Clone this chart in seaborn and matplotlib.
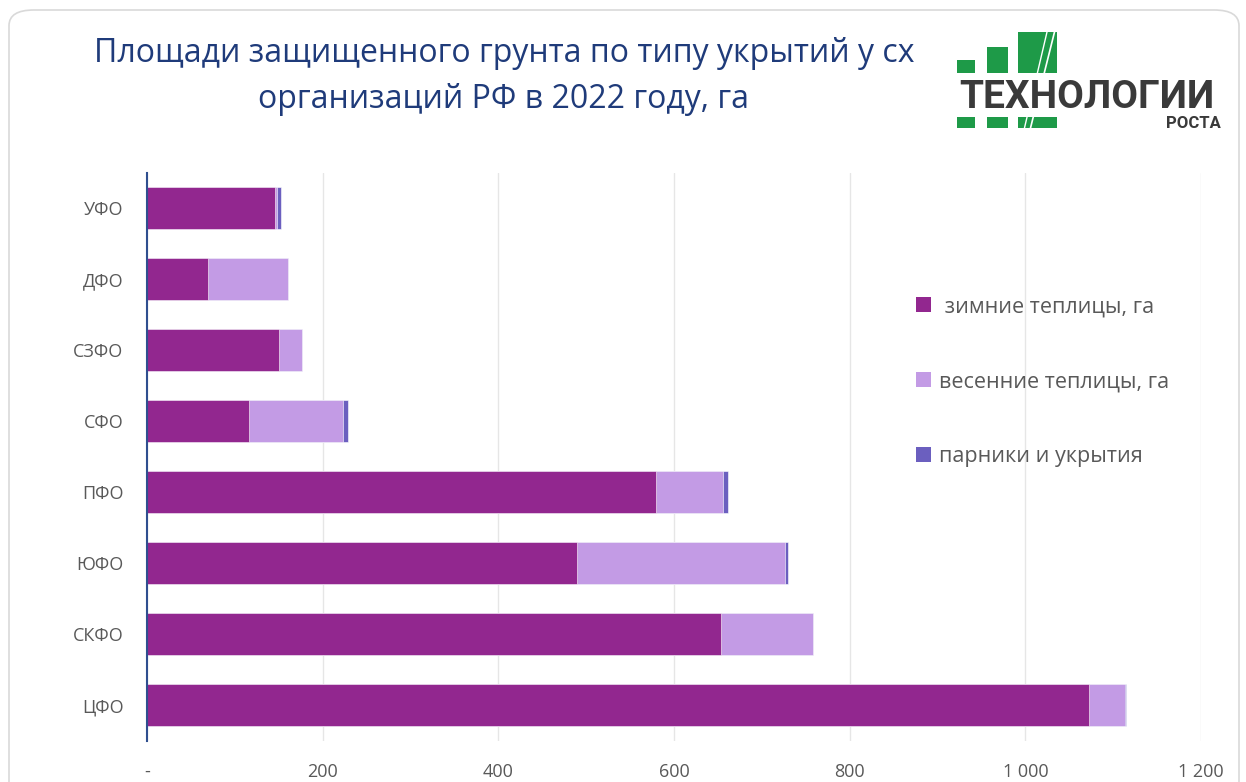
import matplotlib
matplotlib.use("Agg")
import matplotlib.pyplot as plt
import seaborn as sns
import pandas as pd
import numpy as np
from matplotlib.patches import FancyBboxPatch, Rectangle, Patch
from matplotlib.lines import Line2D

regions = ["УФО", "ДФО", "СЗФО", "СФО", "ПФО", "ЮФО", "СКФО", "ЦФО"]
winter = [146, 70, 150, 116, 580, 490, 653, 1073]
spring = [2, 90, 26, 107, 76, 236, 105, 40]
hotbeds = [4, 0, 1, 6, 6, 4, 0, 2]
series_names = [" зимние теплицы, га", "весенние теплицы, га", "парники и укрытия"]
xticks = [0, 200, 400, 600, 800, 1000, 1200]
xticklabels = ["-", "200", "400", "600", "800", "1 000", "1 200"]
title = "Площади защищенного грунта по типу укрытий у сх\nорганизаций РФ в 2022 году, га"

c_winter = "#92278F"
c_spring = "#C39BE5"
c_hot = "#6B5FBF"

df = pd.DataFrame({"region": regions, "winter": winter, "spring": spring, "hot": hotbeds})
df["c1"] = df["winter"]
df["c2"] = df["winter"] + df["spring"]
df["c3"] = df["c2"] + df["hot"]

sns.set_theme(style="white")
plt.rcParams['font.family'] = ['Open Sans', 'DejaVu Sans']

W, H = 1246, 782
fig = plt.figure(figsize=(W / 100, H / 100), dpi=100)
fig.patch.set_facecolor("white")

# outer rounded frame (behind everything)
frame = FancyBboxPatch((9 / W, -40 / H), (W - 16) / W, (H + 30) / H,
                       boxstyle="round,pad=0,rounding_size=0.02",
                       transform=fig.transFigure, facecolor="none",
                       edgecolor="#D9D9D9", linewidth=1.2, zorder=-10)
fig.patches.append(frame)

ax = fig.add_axes([147 / W, 1 - 740.5 / H, (1201 - 147) / W, (740.5 - 172.5) / H])
ax.set_facecolor("none")

for col, color in [("c3", c_hot), ("c2", c_spring), ("c1", c_winter)]:
    sns.barplot(data=df, x=col, y="region", order=regions, color=color,
                orient="h", width=0.6, ax=ax, saturation=1,
                edgecolor="white", linewidth=0.4)

ax.set_xlim(0, 1200)
ax.set_xticks(xticks)
ax.set_xticklabels(xticklabels)
ax.set_xlabel("")
ax.set_ylabel("")
ax.xaxis.grid(True, color="#E6E6E6", linewidth=1)
ax.set_axisbelow(True)
for s in ["top", "right", "bottom"]:
    ax.spines[s].set_visible(False)
ax.spines["left"].set_color("#2F4F8F")
ax.spines["left"].set_linewidth(1.5)
ax.tick_params(axis="x", length=0, pad=16, labelsize=13, labelcolor="#595959")
ax.tick_params(axis="y", length=0, pad=17, labelsize=13, labelcolor="#595959")

# legend
handles = [Patch(facecolor=c, edgecolor="none") for c in [c_winter, c_spring, c_hot]]
fig.legend(handles, series_names, loc="upper left",
           bbox_to_anchor=(897 / W, 1 - 277 / H), frameon=False,
           fontsize=15.5, labelcolor="#595959", handlelength=0.7,
           handleheight=0.7, handletextpad=0.35, labelspacing=2.5)

# title
fig.text(504 / W, 1 - 76 / H, title, ha="center", va="center",
         fontsize=23, color="#1F3B7A", linespacing=1.52)

# logo
green = "#1E9A48"
for (x0, y0, x1, y1) in [(957, 60, 975, 73), (987, 47, 1008, 73), (1018, 32, 1057, 73),
                         (957, 117, 975, 128), (987, 117, 1008, 128), (1018, 117, 1057, 128)]:
    fig.patches.append(Rectangle((x0 / W, 1 - y1 / H), (x1 - x0) / W, (y1 - y0) / H,
                                 transform=fig.transFigure, facecolor=green,
                                 edgecolor="none", zorder=3))
fig.lines.append(Line2D([1030 / W, 1055 / W], [1 - 130 / H, 1 - 30 / H],
                        transform=fig.transFigure, color="white", lw=1.2, zorder=4))
fig.lines.append(Line2D([1024 / W, 1047 / W], [1 - 130 / H, 1 - 32 / H],
                        transform=fig.transFigure, color="white", lw=1.0, zorder=4))
fig.text(1087 / W, 1 - 97 / H, "ТЕХНОЛОГИИ", ha="center", va="center",
         fontsize=28, fontweight="bold", color="#3A3A3A",
         family=["Roboto", "DejaVu Sans"], zorder=5)
fig.text(1221 / W, 1 - 124 / H, "РОСТА", ha="right", va="center",
         fontsize=12, fontweight="bold", color="#3A3A3A",
         family=["Roboto", "DejaVu Sans"], zorder=5)

fig.savefig("out.png", dpi=100)
